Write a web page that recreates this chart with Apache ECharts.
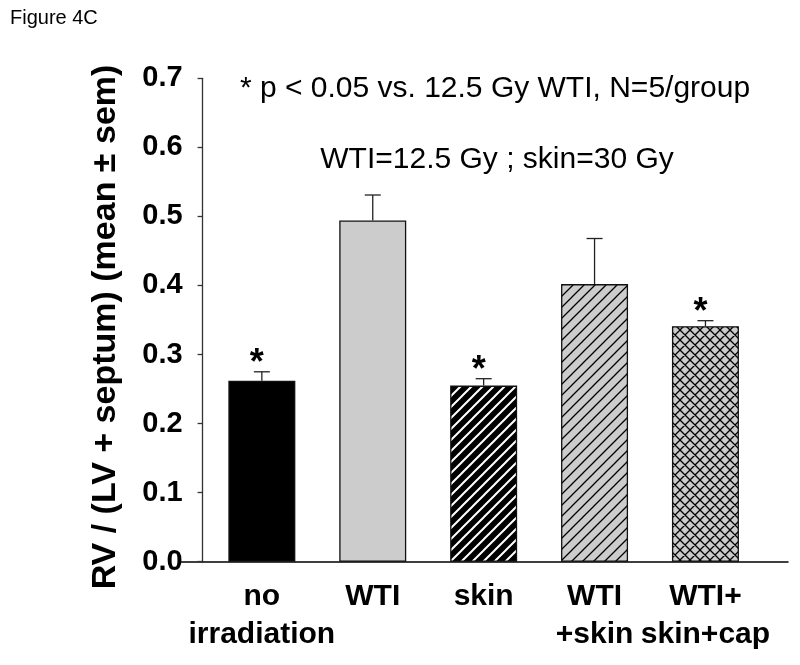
<!DOCTYPE html>
<html><head><meta charset="utf-8">
<script src="https://cdn.jsdelivr.net/npm/echarts@6/dist/echarts.min.js"></script>
<style>html,body{margin:0;padding:0;background:#fff}#c{width:800px;height:665px}</style>
</head><body><div id="c"></div>
<script>
// ---- data ----
const categories = ['no\nirradiation', 'WTI', 'skin', 'WTI\n+skin', 'WTI+\nskin+cap'];
const means = [0.262, 0.494, 0.255, 0.402, 0.341];
const sem = [0.013, 0.037, 0.010, 0.066, 0.008];
const significant = [true, false, true, false, true];
const yTickLabels = ['0.0', '0.1', '0.2', '0.3', '0.4', '0.5', '0.6', '0.7'];
const note1 = '* p < 0.05 vs. 12.5 Gy WTI, N=5/group';
const note2 = 'WTI=12.5 Gy ; skin=30 Gy';

// ---- patterns ----
function hatch(bg, fg, s, lw, cross) {
  const c = document.createElement('canvas');
  c.width = s; c.height = s;
  const g = c.getContext('2d');
  g.fillStyle = bg; g.fillRect(0, 0, s, s);
  g.strokeStyle = fg; g.lineWidth = lw;
  g.beginPath();
  g.moveTo(-1, s + 1); g.lineTo(s + 1, -1);
  g.moveTo(-1, 1); g.lineTo(1, -1);
  g.moveTo(s - 1, s + 1); g.lineTo(s + 1, s - 1);
  if (cross) {
    g.moveTo(-1, -1); g.lineTo(s + 1, s + 1);
    g.moveTo(s - 1, -1); g.lineTo(s + 1, 1);
    g.moveTo(-1, s - 1); g.lineTo(1, s + 1);
  }
  g.stroke();
  return { image: c, repeat: 'repeat' };
}
const fills = [
  '#000000',
  '#cccccc',
  hatch('#000000', '#ffffff', 11, 2, false),
  hatch('#cccccc', '#000000', 11, 1.3, false),
  hatch('#cccccc', '#000000', 10, 1.3, true)
];

const chart = echarts.init(document.getElementById('c'));
const FONT = '"Liberation Sans", Arial, sans-serif';

chart.setOption({
  animation: false,
  backgroundColor: '#fff',
  grid: [
    { left: 206.4, right: 39.1, top: 78.3, bottom: 103.3 },
    { left: 181, right: 12, top: 78.3, bottom: 103.3 }
  ],
  xAxis: [
    {
      type: 'category', gridIndex: 0, data: categories,
      axisLine: { show: false }, axisTick: { show: false },
      axisLabel: { fontFamily: FONT, fontWeight: 'bold', fontSize: 30, color: '#000', lineHeight: 38, margin: 16, interval: 0 }
    },
    {
      type: 'value', gridIndex: 1, min: 0, max: 1,
      axisLine: { show: true, lineStyle: { color: '#000', width: 1.5 } },
      axisTick: { show: false }, axisLabel: { show: false }, splitLine: { show: false }
    }
  ],
  yAxis: [
    {
      type: 'value', gridIndex: 0, min: 0, max: 0.7, interval: 0.1, offset: 3.8,
      axisLine: { show: true, lineStyle: { color: '#333', width: 1.3 } },
      axisTick: { show: true, length: 5, lineStyle: { color: '#333', width: 1.3 } },
      splitLine: { show: false },
      axisLabel: {
        fontFamily: FONT, fontWeight: 'bold', fontSize: 29, color: '#000', margin: 20,
        formatter: (v) => yTickLabels[Math.round(v * 10)]
      },
      name: 'RV / (LV + septum) (mean \u00b1 sem)',
      nameLocation: 'middle', nameGap: 80,
      nameTextStyle: { fontFamily: FONT, fontWeight: 'bold', fontSize: 34, color: '#000', padding: [0, 14, 0, 0] }
    },
    { type: 'value', gridIndex: 1, show: false, min: 0, max: 1 }
  ],
  series: [
    {
      type: 'bar', xAxisIndex: 0, yAxisIndex: 0, barWidth: 67,
      data: means.map((m, i) => ({ value: m, itemStyle: { color: fills[i], borderColor: '#111', borderWidth: 1.3 } }))
    },
    {
      type: 'custom', xAxisIndex: 0, yAxisIndex: 0, z: 3,
      data: means.map((m, i) => [i, m + sem[i], m, significant[i] ? 1 : 0]),
      renderItem: (params, api) => {
        const top = api.coord([api.value(0), api.value(1)]);
        const base = api.coord([api.value(0), api.value(2)]);
        const st = { stroke: '#222', lineWidth: 1.3 };
        const children = [
          { type: 'line', shape: { x1: base[0], y1: base[1], x2: top[0], y2: top[1] }, style: st },
          { type: 'line', shape: { x1: top[0] - 8, y1: top[1], x2: top[0] + 8, y2: top[1] }, style: st }
        ];
        if (api.value(3)) {
          children.push({
            type: 'text',
            style: { text: '*', x: top[0] - 5, y: top[1] - 8, align: 'center', verticalAlign: 'middle',
              font: 'bold 36px ' + FONT, fill: '#000' }
          });
        }
        return { type: 'group', children };
      }
    }
  ],
  graphic: [
    { type: 'text', left: 10, top: 8, style: { text: 'Figure 4C', font: '20px ' + FONT, fill: '#000' } },
    { type: 'text', x: 495, y: 89, style: { text: note1, font: '30px ' + FONT, fill: '#000', align: 'center', verticalAlign: 'middle' } },
    { type: 'text', x: 497, y: 160, style: { text: note2, font: '30px ' + FONT, fill: '#000', align: 'center', verticalAlign: 'middle' } }
  ]
});
</script></body></html>
